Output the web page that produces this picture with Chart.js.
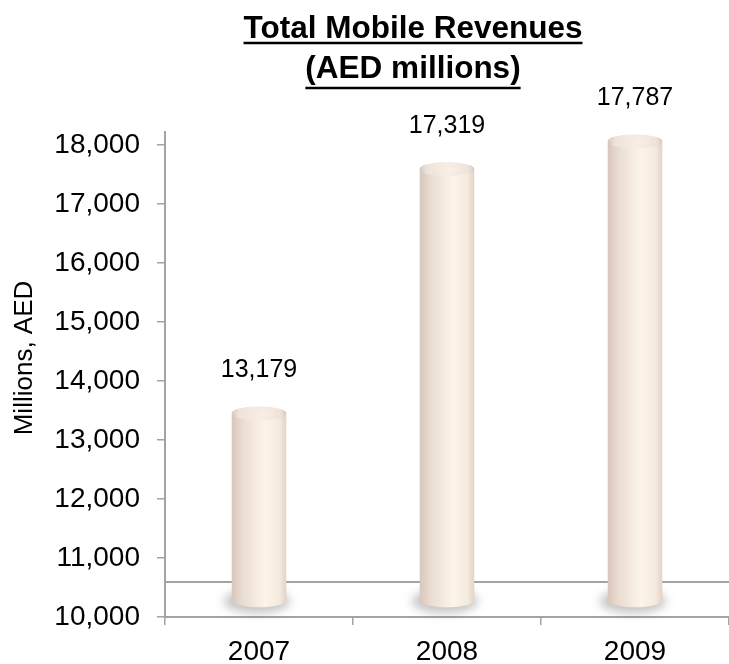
<!DOCTYPE html>
<html>
<head>
<meta charset="utf-8">
<title>Total Mobile Revenues</title>
<script src="https://cdn.jsdelivr.net/npm/chart.js@4/dist/chart.umd.min.js"></script>
<style>
  html, body { margin: 0; padding: 0; background: #fff; }
  canvas { display: block; }
</style>
</head>
<body>
<canvas id="myChart" width="729" height="664"></canvas>
<script>
const years = ['2007', '2008', '2009']
const revenues = [13179, 17319, 17787]
const yTicks = [10000, 11000, 12000, 13000, 14000, 15000, 16000, 17000, 18000]
const titleLines = ['Total Mobile Revenues', '(AED millions)']
const axisTitle = 'Millions, AED'
const yMin = 10000
const yMax = 18220

const FONT = "'Liberation Sans', Arial, sans-serif"
const AXIS_GREY = '#a3a3a3'
const LIFT = 16 // cylinders sit back on the floor, drawn this far up
const FLOOR_DEPTH = 35

const fmt = v => Number(v).toLocaleString('en-US')

// cylinder bars, floor line, value labels and titles
const cylinders = {
  id: 'cylinders',
  beforeDatasetsDraw(chart) {
    const { ctx, chartArea } = chart
    ctx.save()
    ctx.strokeStyle = AXIS_GREY
    ctx.lineWidth = 2
    ctx.beginPath()
    ctx.moveTo(chartArea.left + 1, chartArea.bottom - FLOOR_DEPTH)
    ctx.lineTo(chartArea.right, chartArea.bottom - FLOOR_DEPTH)
    ctx.stroke()
    ctx.restore()
  },
  afterDatasetsDraw(chart) {
    const { ctx } = chart
    const meta = chart.getDatasetMeta(0)
    meta.data.forEach((bar, i) => {
      const rx = bar.width / 2
      const ry = 7
      const x = bar.x
      const top = bar.y - LIFT
      const bottom = bar.base - LIFT

      ctx.save()
      // soft shadow under the base
      ctx.filter = 'blur(5px)'
      ctx.fillStyle = 'rgba(90, 90, 90, 0.35)'
      ctx.beginPath()
      ctx.ellipse(x - 2, bottom + 1, rx + 6, ry + 5, 0, 0, Math.PI * 2)
      ctx.fill()
      ctx.filter = 'none'

      // body
      const g = ctx.createLinearGradient(x - rx, 0, x + rx, 0)
      g.addColorStop(0, '#d8c6ba')
      g.addColorStop(0.2, '#eadcd1')
      g.addColorStop(0.62, '#fdf5ea')
      g.addColorStop(0.88, '#f5e9dd')
      g.addColorStop(1, '#e2d3c6')
      ctx.fillStyle = g
      ctx.beginPath()
      ctx.moveTo(x - rx, top)
      ctx.lineTo(x - rx, bottom)
      ctx.ellipse(x, bottom, rx, ry, 0, Math.PI, 0, true)
      ctx.lineTo(x + rx, top)
      ctx.ellipse(x, top, rx, ry, 0, 0, Math.PI, true)
      ctx.closePath()
      ctx.fill()

      // cap
      const c = ctx.createRadialGradient(x + 3, top + 1, 2, x, top, rx)
      c.addColorStop(0, '#f7eee5')
      c.addColorStop(0.75, '#eee3d9')
      c.addColorStop(1, '#d3c8bf')
      ctx.fillStyle = c
      ctx.beginPath()
      ctx.ellipse(x, top, rx, ry, 0, 0, Math.PI * 2)
      ctx.fill()
      ctx.restore()

      // value label
      ctx.save()
      ctx.fillStyle = '#000'
      ctx.font = '25px ' + FONT
      ctx.textAlign = 'center'
      ctx.textBaseline = 'middle'
      ctx.fillText(fmt(revenues[i]), x, bar.y - 59)
      ctx.restore()
    })
  },
  afterDraw(chart) {
    const { ctx } = chart
    ctx.save()
    ctx.fillStyle = '#000'
    ctx.strokeStyle = '#000'

    // underlined title
    ctx.font = 'bold 31.5px ' + FONT
    ctx.textAlign = 'center'
    ctx.textBaseline = 'alphabetic'
    const cx = 413
    const baselines = [38, 78]
    const underlines = [43, 88]
    titleLines.forEach((line, i) => {
      ctx.fillText(line, cx, baselines[i])
      const w = ctx.measureText(line).width
      ctx.lineWidth = 2.5
      ctx.beginPath()
      ctx.moveTo(cx - w / 2, underlines[i])
      ctx.lineTo(cx + w / 2, underlines[i])
      ctx.stroke()
    })

    // y axis title
    ctx.font = '26px ' + FONT
    ctx.textBaseline = 'middle'
    ctx.translate(25, 358)
    ctx.rotate(-Math.PI / 2)
    ctx.fillText(axisTitle, 0, 0)
    ctx.restore()
  }
}

const ctx = document.getElementById('myChart').getContext('2d')

const data = {
  labels: years,
  datasets: [
    {
      label: 'Total Mobile Revenues',
      data: revenues,
      base: yMin,
      backgroundColor: 'rgba(0,0,0,0)',
      borderWidth: 0,
      categoryPercentage: 1,
      barPercentage: 0.29
    }
  ]
}

const config = {
  type: 'bar',
  data: data,
  plugins: [cylinders],
  options: {
    responsive: false,
    devicePixelRatio: 1,
    animation: false,
    layout: {
      padding: { top: 132, right: 0, bottom: 0, left: 0 }
    },
    plugins: {
      legend: { display: false },
      title: { display: false },
      tooltip: { enabled: false }
    },
    scales: {
      x: {
        type: 'category',
        afterFit: s => { s.height = 47 },
        border: { color: AXIS_GREY, width: 2 },
        grid: {
          offset: true,
          drawOnChartArea: false,
          color: AXIS_GREY,
          lineWidth: 1.5,
          tickLength: 8
        },
        ticks: {
          color: '#000',
          padding: 10,
          font: { family: FONT, size: 28 }
        }
      },
      y: {
        type: 'linear',
        position: 'left',
        min: yMin,
        max: yMax,
        afterFit: s => { s.width = 165 },
        afterBuildTicks: s => { s.ticks = yTicks.map(v => ({ value: v })) },
        border: { color: AXIS_GREY, width: 2 },
        grid: {
          drawOnChartArea: false,
          color: AXIS_GREY,
          lineWidth: 1.5,
          tickLength: 8
        },
        ticks: {
          color: '#000',
          padding: 17,
          font: { family: FONT, size: 28 },
          callback: v => fmt(v)
        }
      }
    }
  }
}

const myChart = new Chart(ctx, config)
</script>
</body>
</html>
